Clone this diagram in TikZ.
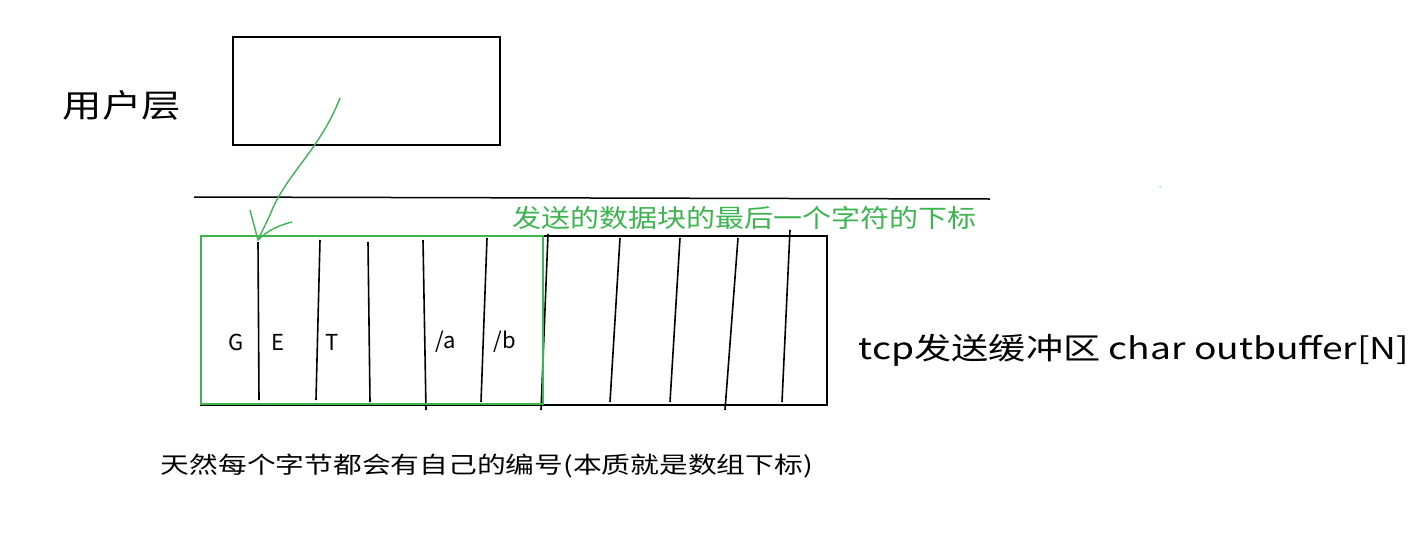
\documentclass[tikz,border=0pt]{standalone}
\usepackage{fontspec}
\usepackage{graphicx}
\setmainfont{Noto Sans CJK SC}
\definecolor{gr}{RGB}{60,180,80}
\begin{document}
\begin{tikzpicture}[x=1pt,y=-1pt,line width=1.8pt,
  lbl/.style={inner sep=0pt,anchor=west},
  sl/.style={line width=1.6pt}]
\useasboundingbox (0,0) rectangle (1413,552);
\draw (233,37) rectangle (500,145);
\node[lbl,font=\fontsize{32}{36}\selectfont] (ul) at (62,105) {\scalebox{1.23}[1]{用户层}};
\coordinate (h1) at (194,197); \coordinate (h2) at (990,199);
\draw[line width=1.5pt] (h1) -- (h2);
\draw (201,236) rectangle (827,405);
\foreach \a/\b/\t/\e in {258/259/242/400, 320/316/240/400, 368/370/242/402, 423/426/240/410, 487/481/238/402, 548/541/234/410, 620/610/238/402, 680/670/238/402, 738/725/238/410, 790/782/230/402}
  \draw[sl] (\a,\t) -- (\b,\e);
\draw[gr,line width=2pt] (201,236) rectangle (543,404);
\foreach \x/\s in {236/G,278/E,332/T,446/{/a},505/{/b}}
  \node[font=\fontsize{22}{26}\selectfont] at (\x,342) {\s};
\draw[gr,line width=1.4pt] (340,98) .. controls (320,150) and (285,175) .. (270,215) -- (258,240);
\draw[gr,line width=1.4pt] (250,210) -- (258,240) .. controls (268,230) and (280,225) .. (292,222);
\node[lbl,text=gr,font=\fontsize{25}{28}\selectfont] (gt) at (512,218) {\scalebox{1.16}[1]{发送的数据块的最后一个字符的下标}};
\node[lbl,font=\fontsize{30}{32}\selectfont] (tcp) at (858,350) {\scalebox{1.24}[1]{tcp发送缓冲区 char outbuffer[N]}};
\node[lbl,font=\fontsize{23}{25}\selectfont] (bt) at (160,466) {\scalebox{1.25}[1]{天然每个字节都会有自己的编号(本质就是数组下标)}};
\fill[gr!50] (1160,187) circle (1);
\end{tikzpicture}
\end{document}
